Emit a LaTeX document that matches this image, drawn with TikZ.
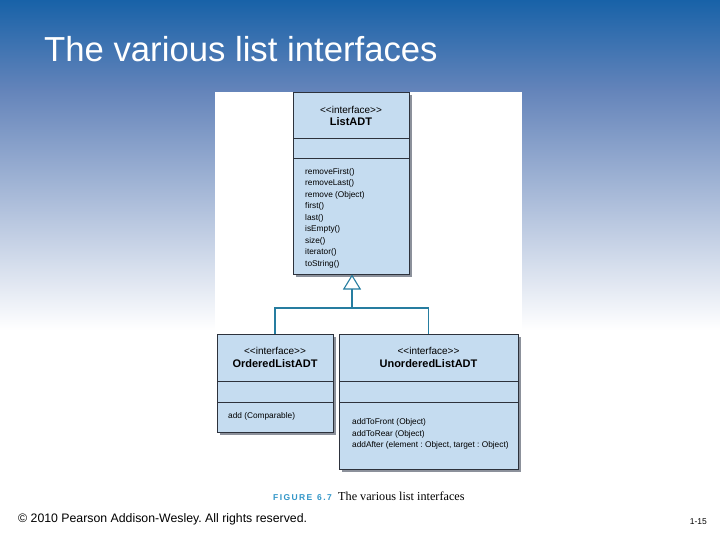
\documentclass[tikz,border=0pt]{standalone}
\usepackage{fontspec}
\setmainfont{Liberation Sans}
\newfontfamily\stfont{Liberation Sans}
\newfontfamily\capserif{Liberation Serif}
\usetikzlibrary{arrows.meta}
\frenchspacing
\definecolor{topblue}{RGB}{24,98,168}
\definecolor{midblue}{RGB}{100,132,186}
\definecolor{boxfill}{RGB}{197,220,240}
\definecolor{boxline}{RGB}{45,50,60}
\definecolor{shadowc}{RGB}{140,145,155}
\definecolor{linkc}{RGB}{38,125,160}
\definecolor{figc}{RGB}{50,150,200}
\tikzset{
  umlbox/.style={draw=boxline, line width=0.9pt, fill=boxfill, anchor=north west, inner sep=0pt, outer sep=0pt},
  stereo/.style={font=\stfont\fontsize{10}{12}\selectfont, inner sep=0pt},
  cname/.style={font=\fontsize{11}{13}\selectfont\bfseries, inner sep=0pt},
  methods/.style={font=\fontsize{8.3}{11.5}\selectfont, align=left, anchor=north west, inner sep=0pt},
  sep/.style={draw=boxline, line width=0.9pt},
  link/.style={draw=linkc, line width=1.6pt}
}
\begin{document}
\begin{tikzpicture}[x=1pt,y=-1pt]
\useasboundingbox (0,0) rectangle (720,540);
\fill[white] (0,0) rectangle (720,540);
\shade[top color=topblue, bottom color=midblue] (0,0) rectangle (720,90.5);
\shade[top color=midblue, bottom color=white] (0,90) rectangle (720,330);
% figure panel
\fill[white] (215,92) rectangle (522,506);
% title
\node[anchor=base west, text=white, font=\fontsize{34.7}{40}\selectfont, inner sep=0pt] (title) at (44,62) {The various list interfaces};
% shadows
\fill[shadowc] (296,95) rectangle (412,277);
\fill[shadowc] (220,337) rectangle (336,435);
\fill[shadowc] (342,337) rectangle (521,472);
% boxes
\node[umlbox, minimum width=116pt, minimum height=182pt] (list) at (293,92) {};
\draw[sep] (293,138) -- (409,138);
\draw[sep] (293,158) -- (409,158);
\node[stereo] (lists) at (351,110) {<<interface>>};
\node[cname] (listn) at (351,122) {ListADT};
\node[methods] (listm) at (305,168) {removeFirst()\\removeLast()\\remove (Object)\\first()\\last()\\isEmpty()\\size()\\iterator()\\toString()};

\node[umlbox, minimum width=116pt, minimum height=98pt] (ord) at (217,334) {};
\draw[sep] (217,381) -- (333,381);
\draw[sep] (217,402) -- (333,402);
\node[stereo] (ords) at (275,351) {<<interface>>};
\node[cname] (ordn) at (275,364) {OrderedListADT};
\node[methods, anchor=west] (ordm) at (228,416) {add (Comparable)};

\node[umlbox, minimum width=179pt, minimum height=135pt] (unord) at (339,334) {};
\draw[sep] (339,381) -- (518,381);
\draw[sep] (339,402) -- (518,402);
\node[stereo] (unords) at (428.5,351) {<<interface>>};
\node[cname] (unordn) at (428.5,364) {UnorderedListADT};
\node[methods] (unordm) at (352,418.5) {addToFront (Object)\\addToRear (Object)\\addAfter (element : Object, target : Object)};

% connectors
\coordinate (jn) at (352,308);
\draw[link] (ord.north) |- (jn) -| (unord.north);
\draw[link, -{Triangle[open, length=15pt, width=18pt, line width=1.1pt]}] (jn) -- (352,274.5);
% caption
\node[anchor=base west, inner sep=0pt, text=figc, font=\fontsize{8.5}{10}\selectfont\bfseries] (figl) at (273,500) {F\,I\,G\,U\,R\,E\ \ 6\,.\,7};
\node[anchor=base west, inner sep=0pt, font=\capserif\fontsize{12.2}{14}\selectfont] (figt) at (338,500) {The various list interfaces};
% footer
\node[anchor=base west, inner sep=0pt, font=\fontsize{12.3}{14}\selectfont] (copy) at (18,522) {© 2010 Pearson Addison-Wesley. All rights reserved.};
\node[anchor=base east, inner sep=0pt, font=\stfont\fontsize{8.5}{10}\selectfont] (pg) at (707,524) {1-15};
\end{tikzpicture}
\end{document}
